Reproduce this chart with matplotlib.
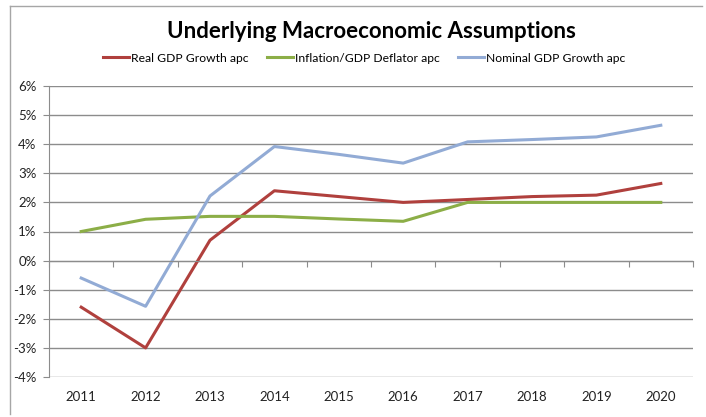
import matplotlib
matplotlib.use("Agg")
import matplotlib.pyplot as plt
from matplotlib.lines import Line2D

# --------------------------------------------------
# Data (annual percentage change)
# --------------------------------------------------
years = ["2011", "2012", "2013", "2014", "2015", "2016", "2017", "2018", "2019", "2020"]
real_gdp = [-1.6, -3.0, 0.7, 2.4, 2.2, 2.0, 2.1, 2.2, 2.25, 2.65]
deflator = [1.0, 1.42, 1.52, 1.52, 1.43, 1.35, 2.0, 2.0, 2.0, 2.0]
nominal_gdp = [-0.6, -1.57, 2.22, 3.92, 3.65, 3.35, 4.08, 4.16, 4.25, 4.65]
y_ticks = [-4, -3, -2, -1, 0, 1, 2, 3, 4, 5, 6]
y_labels = ["-4%", "-3%", "-2%", "-1%", "0%", "1%", "2%", "3%", "4%", "5%", "6%"]


def main():
    plt.rcParams["font.family"] = ["Lato", "DejaVu Sans"]
    grey = "#8c8c8c"

    fig = plt.figure(figsize=(7.06, 4.17), dpi=100)
    ax = fig.add_axes([49 / 706, 40 / 417, 644 / 706, 291 / 417])

    x = range(len(years))
    ax.plot(x, real_gdp, color="#b0403d", lw=2.2, label="Real GDP Growth apc")
    ax.plot(x, deflator, color="#8cae47", lw=2.2, label="Inflation/GDP Deflator apc")
    ax.plot(x, nominal_gdp, color="#92abd5", lw=2.2, label="Nominal GDP Growth apc")

    ax.set_xlim(-0.5, len(years) - 0.5)
    ax.set_ylim(-4, 6)
    ax.set_yticks(y_ticks, labels=y_labels)
    ax.yaxis.grid(True, color=grey, lw=1.0)
    ax.set_axisbelow(True)

    # category axis crosses at 0%, labels sit at the bottom
    ax.spines["bottom"].set_position(("data", 0))
    ax.spines["bottom"].set_color(grey)
    ax.spines["left"].set_color(grey)
    ax.spines["top"].set_visible(False)
    ax.spines["right"].set_visible(False)
    ax.set_xticks([i - 0.5 for i in range(len(years) + 1)], labels=[])
    ax.tick_params(axis="x", direction="out", length=4, color=grey)
    ax.tick_params(axis="y", direction="out", length=4, color=grey,
                   labelsize=9.5, pad=5, labelcolor="#222222")

    sec = ax.secondary_xaxis("bottom")
    sec.set_xticks(list(x), labels=years)
    sec.tick_params(length=0, pad=10, labelsize=9.5, labelcolor="#222222")
    sec.spines["bottom"].set_visible(False)

    fig.text(371 / 706, 1 - 38 / 417, "Underlying Macroeconomic Assumptions",
             ha="center", va="baseline", fontsize=16, fontweight="bold")
    fig.legend(loc="center", bbox_to_anchor=(364 / 706, 1 - 58 / 417), ncol=3,
               frameon=False, fontsize=8.7, handlelength=2.2, handletextpad=0.15,
               columnspacing=1.5)

    # chart frame
    fig.add_artist(Line2D([10 / 706, 702 / 706], [1 - 6 / 417, 1 - 6 / 417],
                          color="#a6a6a6", lw=1.0))
    fig.add_artist(Line2D([10 / 706, 10 / 706], [1 - 6 / 417, 1 - 414 / 417],
                          color="#a6a6a6", lw=1.0))

    fig.savefig("out.png", dpi=100)


if __name__ == "__main__":
    main()
